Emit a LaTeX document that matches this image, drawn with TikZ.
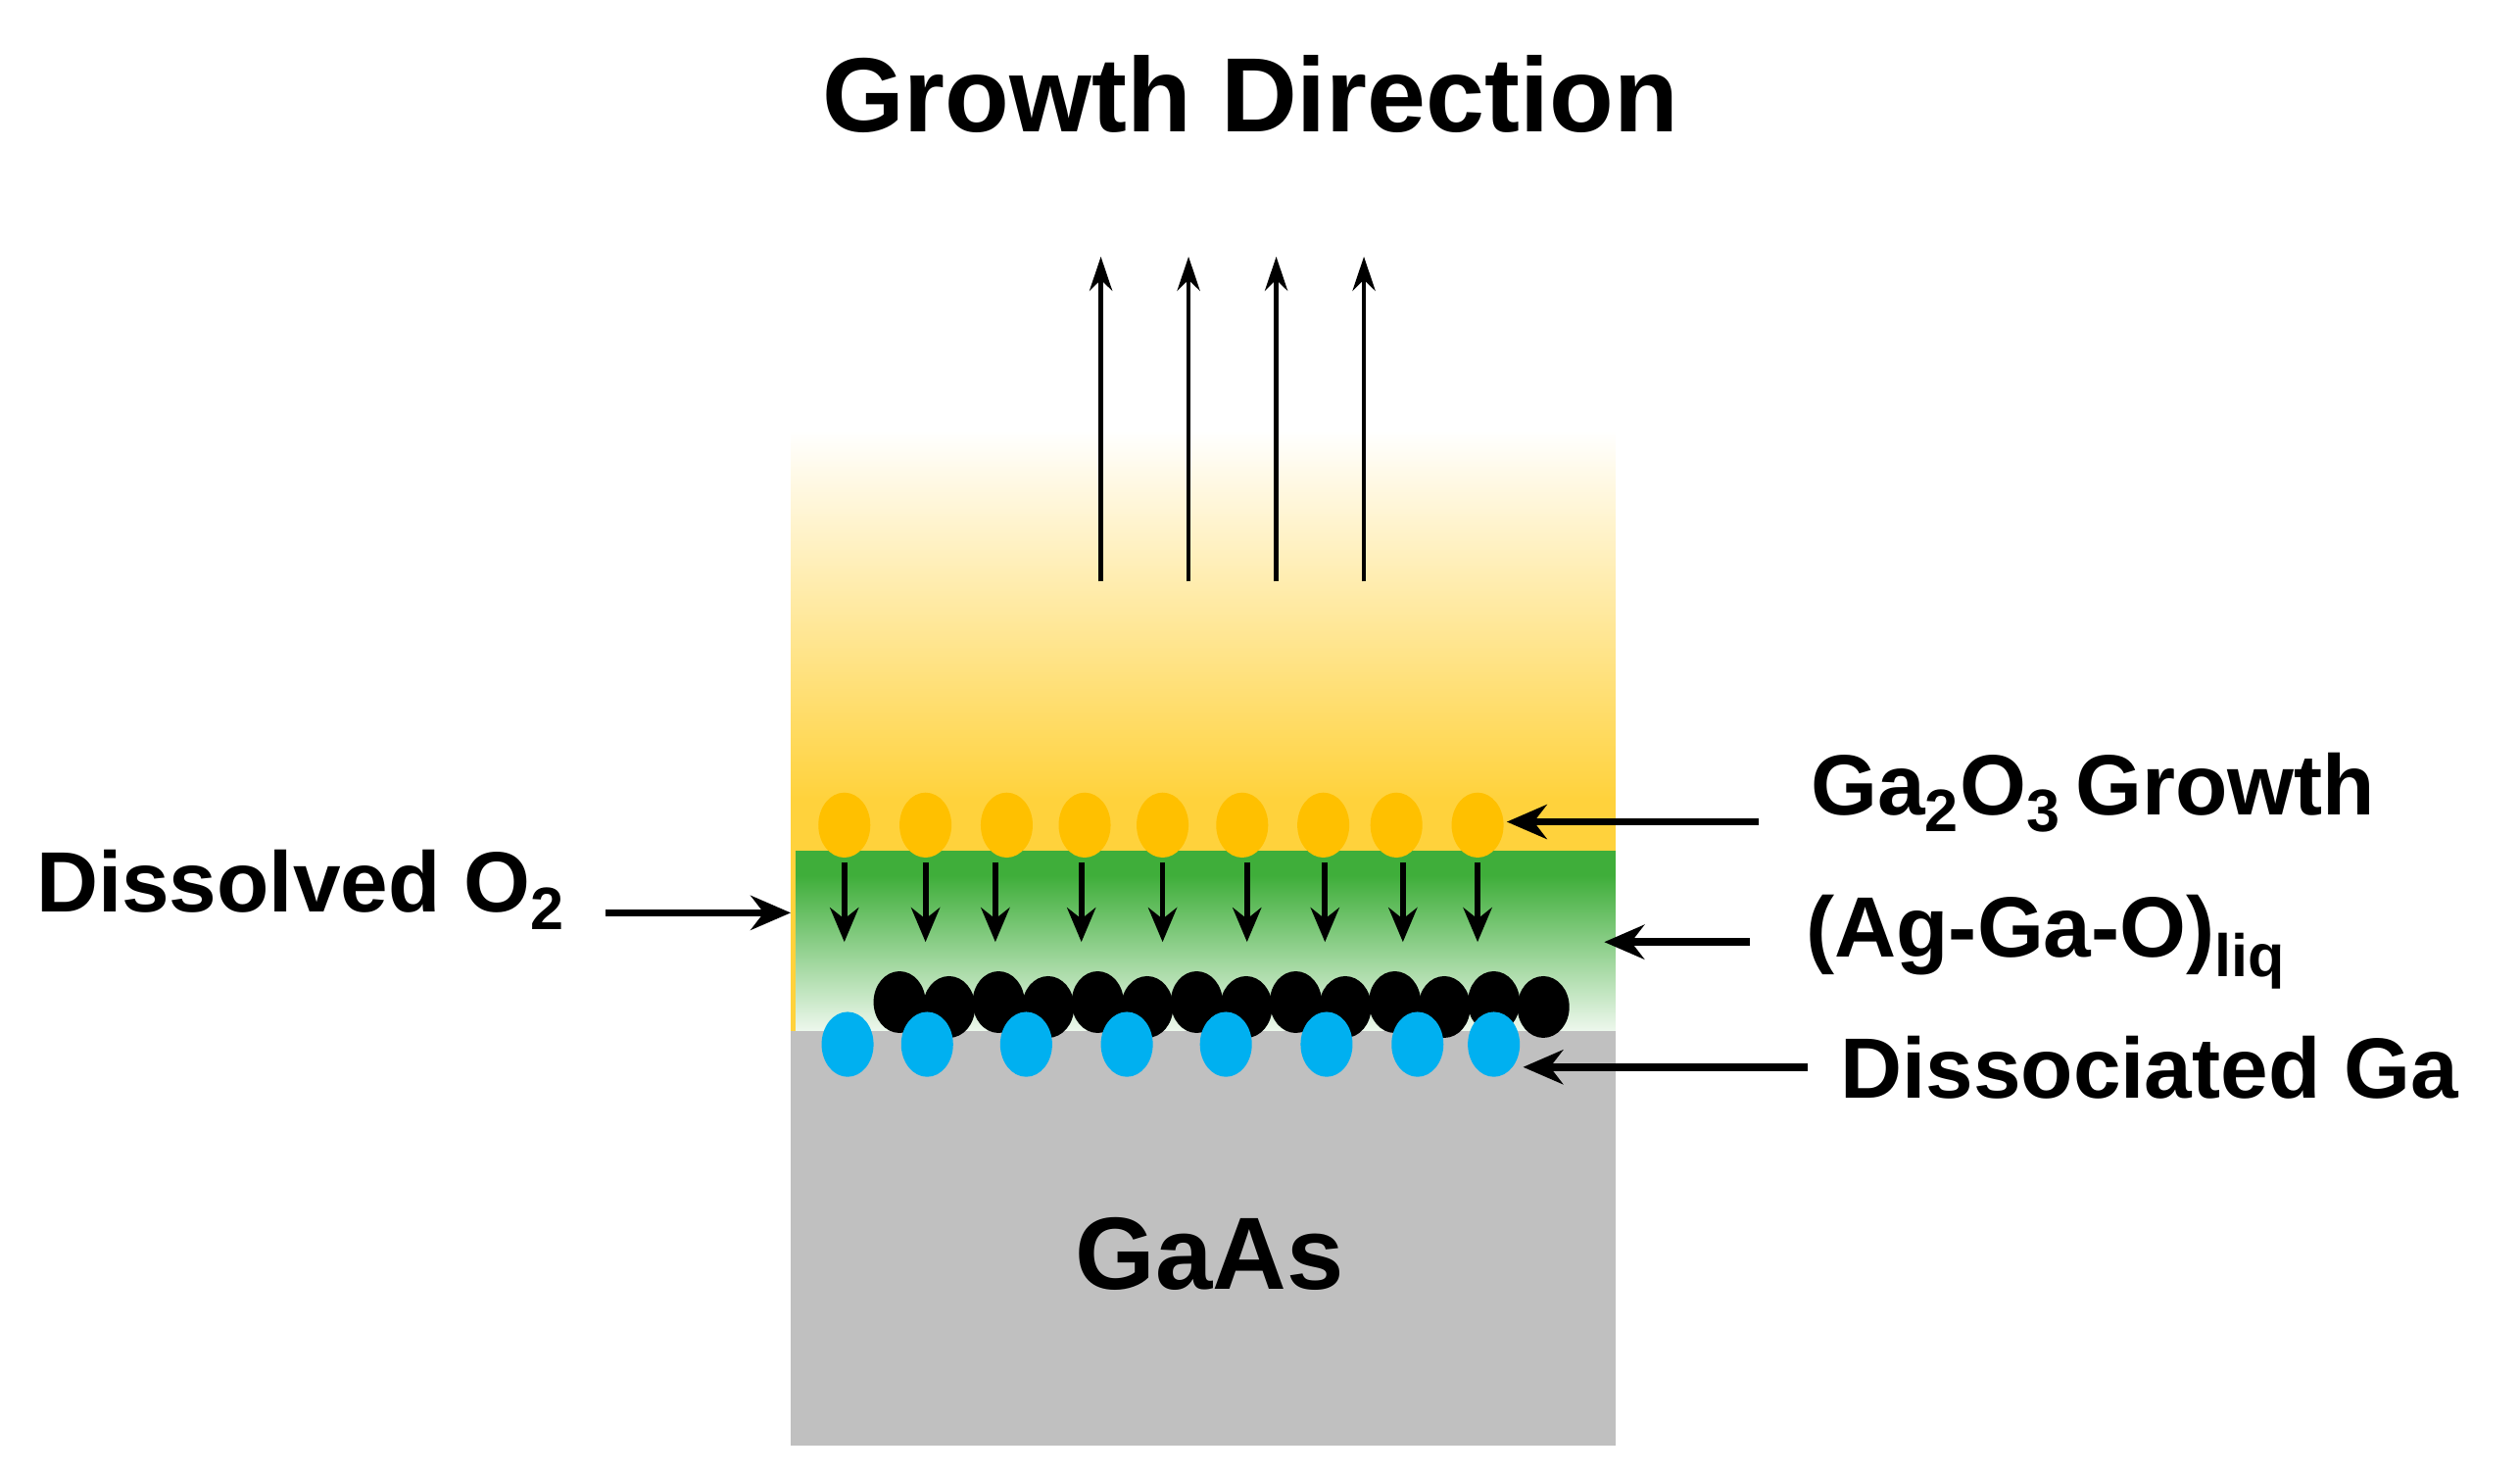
\documentclass[tikz,border=0pt]{standalone}
\usepackage{fontspec}
\setmainfont{Liberation Sans}
\usetikzlibrary{arrows.meta}
\definecolor{ylw}{HTML}{FFD23C}
\definecolor{orng}{HTML}{FFC000}
\definecolor{grn}{HTML}{3FAE3A}
\definecolor{gry}{HTML}{C0C0C0}
\definecolor{blu}{HTML}{00B0F0}
\begin{document}
\begin{tikzpicture}[x=0.02cm,y=-0.02cm,
  lbl/.style={font=\bfseries\fontsize{30}{34}\selectfont,inner sep=0pt},
  pt/.style={-{Stealth[length=14,width=12]},line width=2.6},
  up/.style={-{Stealth[length=12,width=8]},line width=1.6},
  dn/.style={-{Stealth[length=12,width=10]},line width=2}]
\useasboundingbox (0,0) rectangle (1552,908);
% layers
\shade[top color=white,bottom color=ylw] (487,265) rectangle (995,492);
\fill[ylw] (487,491) rectangle (995,525);
\fill[ylw] (487,524) rectangle (492,635);
\fill[grn] (490,524) rectangle (995,540);
\shade[top color=grn,bottom color=grn!8] (490,539) rectangle (995,636);
\fill[gry] (487,635) rectangle (995,890);
% orange
\foreach \x [count=\i] in {520,570,620,668,716,765,815,860,910}
  \fill[orng] (\x,508) ellipse (16 and 20);
% down arrows
\foreach \x [count=\i] in {520,570,613,666,716,768,816,864,910}{
  \coordinate (da\i) at (\x,531); \coordinate (db\i) at (\x,580);
  \draw[dn] (da\i) -- (db\i);}
% black
\foreach \i in {0,...,13}
  \fill[black] ({554+30.5*\i},{617+mod(\i,2)*3}) ellipse (16 and 19);
% blue
\foreach \x in {522,571,632,694,755,817,873,920}
  \fill[blu] (\x,643) ellipse (16 and 20);
% growth arrows
\foreach \x [count=\i] in {678,732,786,840}{
  \coordinate (ua\i) at (\x,358); \coordinate (ub\i) at (\x,158);
  \draw[up] (ua\i) -- (ub\i);}
% labels
\node[lbl,font=\bfseries\fontsize{37}{42}\selectfont] (title) at (770,58) {Growth Direction};
\node[lbl,anchor=west] (ga2o3) at (1115,488) {Ga$_\mathbf{2}$O$_\mathbf{3}$\,Growth};
\node[lbl,anchor=west] (diso) at (22,548) {Dissolved O$_\mathbf{2}$};
\node[lbl,anchor=west] (liq) at (1112,580) {(Ag-Ga-O)$_\mathbf{liq}$};
\node[lbl,anchor=west] (dga) at (1133,657) {Dissociated Ga};
\node[lbl,font=\bfseries\fontsize{36}{40}\selectfont] (gaas) at (745,772) {GaAs};
\coordinate (a1s) at (1083,506); \coordinate (a1e) at (928,506);
\coordinate (a2s) at (373,562); \coordinate (a2e) at (487,562);
\coordinate (a3s) at (1078,580); \coordinate (a3e) at (988,580);
\coordinate (a4s) at (1113,657); \coordinate (a4e) at (938,657);
\draw[pt] (a1s) -- (a1e);
\draw[pt] (a2s) -- (a2e);
\draw[pt] (a3s) -- (a3e);
\draw[pt] (a4s) -- (a4e);
\end{tikzpicture}
\end{document}
